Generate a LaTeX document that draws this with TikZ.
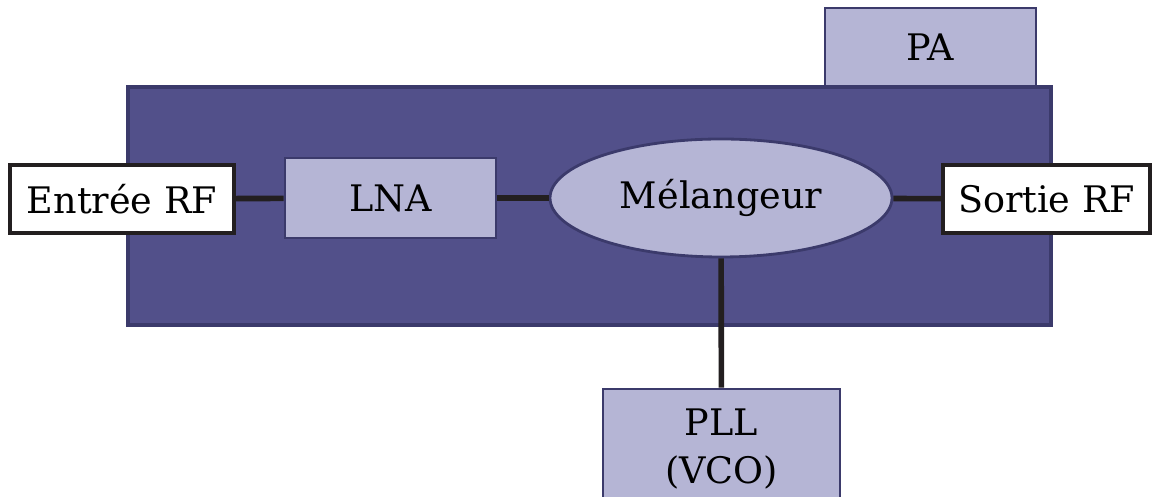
\documentclass[tikz,border=0pt]{standalone}
\usepackage{fontspec}
\setmainfont{DejaVu Serif}
\usetikzlibrary{positioning, shapes.geometric}
\definecolor{chipPurple}{HTML}{52508A}
\definecolor{chipBorder}{HTML}{3B3A6B}
\definecolor{blockLavender}{HTML}{B5B5D5}
\definecolor{wireBlack}{HTML}{231F20}

\begin{document}
\begin{tikzpicture}[font=\fontsize{10.4}{13.7}\selectfont,
    bloc/.style={draw=chipBorder, line width=0.8pt, fill=blockLavender, inner sep=0pt},
    port/.style={draw=wireBlack, line width=1pt, fill=white, inner sep=0pt},
    fil/.style={draw=wireBlack, line width=1.6pt}]
    \useasboundingbox (0,0) rectangle (11.61,4.97);

    % amplificateur de puissance, pose sur la puce
    \node[bloc, minimum width=2.11cm, minimum height=0.79cm] (pa) at (9.305,4.495) {PA};
    % puce
    \draw[chipBorder, line width=1pt, fill=chipPurple] (1.28,1.72) rectangle (10.51,4.10);

    \node[port, minimum width=2.24cm, minimum height=0.68cm] (entree) at (1.22,2.98) {Entrée RF};
    \node[bloc, minimum width=2.11cm, minimum height=0.80cm] (lna) at (3.905,2.99) {LNA};
    \node[bloc, ellipse, minimum width=3.42cm, minimum height=1.18cm] (melangeur) at (7.21,2.99) {Mélangeur};
    \node[port, minimum width=2.07cm, minimum height=0.68cm] (sortie) at (10.465,2.98) {Sortie RF};
    \node[bloc, align=center, minimum width=2.37cm, minimum height=1.20cm] (pll) at (7.215,0.48) {PLL\\(VCO)};

    \draw[fil] (entree) -- (lna);
    \draw[fil] (lna) -- (melangeur);
    \draw[fil] (melangeur) -- (sortie);
    \draw[fil] (melangeur) -- (pll);
\end{tikzpicture}
\end{document}
